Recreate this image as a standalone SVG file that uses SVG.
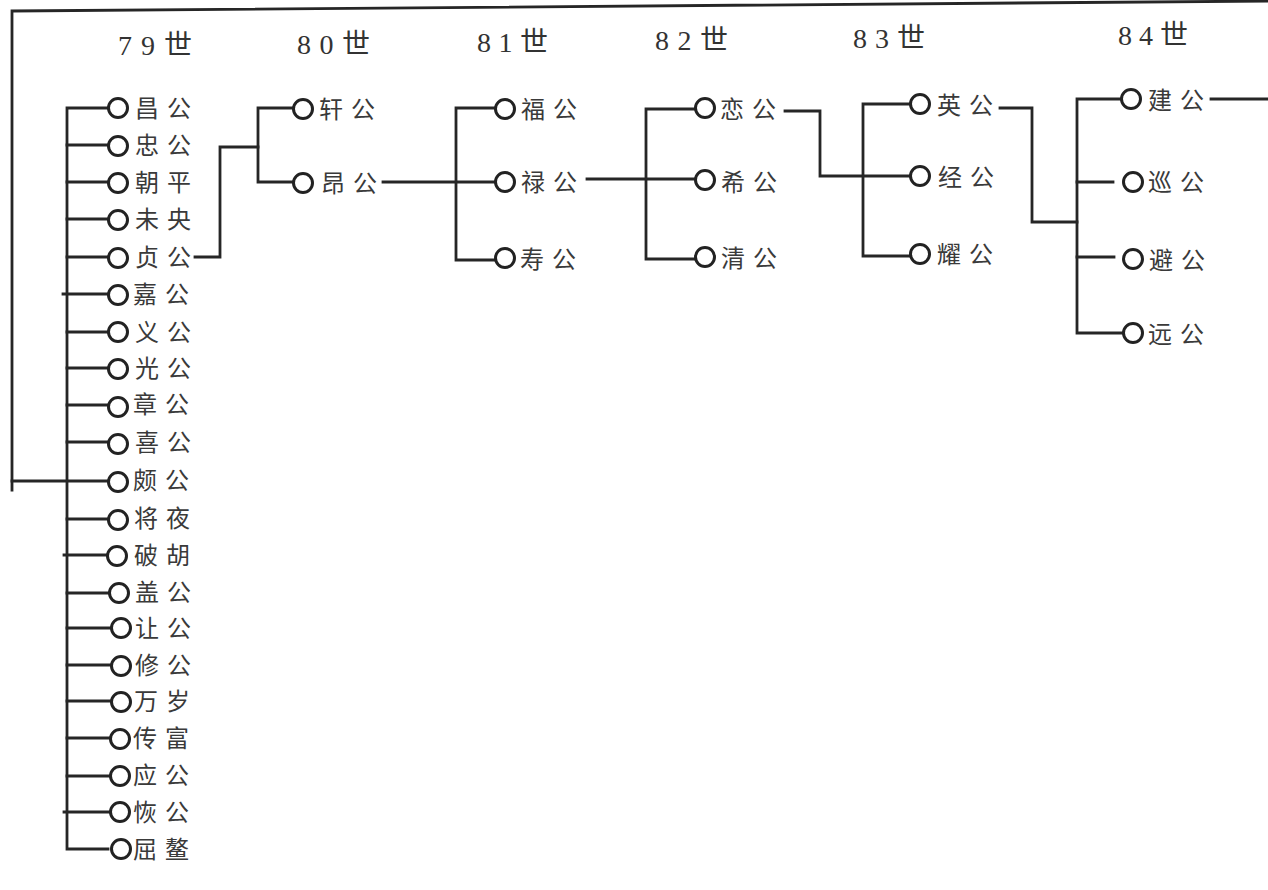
<svg xmlns="http://www.w3.org/2000/svg" width="1268" height="890" viewBox="0 0 1268 890">
<style>
.bg{fill:#ffffff}
.ln{fill:none;stroke:#262626;stroke-width:2.8;stroke-linecap:square;stroke-linejoin:miter}
.c{fill:none;stroke:#222222;stroke-width:3}
.t{font-family:"Noto Sans CJK SC","Noto Sans CJK TC",sans-serif;font-size:24px;fill:#3a3a3a;letter-spacing:8px}
.h{font-family:"Liberation Serif","Noto Sans CJK SC",serif;font-size:28px;fill:#333333}
</style>
<rect class="bg" x="0" y="0" width="1268" height="890"/>
<g id="headers">
<text class="h" x="118" y="55" textLength="74" lengthAdjust="spacing">79世</text>
<text class="h" x="297" y="54" textLength="73" lengthAdjust="spacing">80世</text>
<text class="h" x="477" y="52" textLength="71" lengthAdjust="spacing">81世</text>
<text class="h" x="655" y="50" textLength="73" lengthAdjust="spacing">82世</text>
<text class="h" x="853" y="48" textLength="72" lengthAdjust="spacing">83世</text>
<text class="h" x="1118" y="45" textLength="70" lengthAdjust="spacing">84世</text>
</g>
<g id="connectors">
<path class="ln" d="M12,490 L12,11 L1268,1"/>
<path class="ln" d="M12,481 H108"/>
<path class="ln" d="M108,108 H67 V849 H108"/>
<path class="ln" d="M67,145 H108 M67,182 H108 M67,219 H108 M67,257 H108 M63,294 H108 M67,332 H108 M67,368 H108 M67,405 H108 M67,442 H108 M67,519 H108 M64,555 H107 M67,593 H109 M67,628 H111 M67,665 H111 M67,701 H111 M67,738 H110 M67,776 H110 M64,812 H110"/>
<path class="ln" d="M195,257 H220 V147 H258"/>
<path class="ln" d="M293,108 H258 V182 H293"/>
<path class="ln" d="M383,182 H495"/>
<path class="ln" d="M495,108 H456 V260 H495"/>
<path class="ln" d="M587,179 H695"/>
<path class="ln" d="M695,109 H646 V259 H695"/>
<path class="ln" d="M785,111 H820 V176 H910"/>
<path class="ln" d="M910,104 H863 V256 H910"/>
<path class="ln" d="M1000,108 H1032 V222 H1077"/>
<path class="ln" d="M1121,99 H1077 V333 H1123"/>
<path class="ln" d="M1077,182 H1113 M1077,257 H1114"/>
<path class="ln" d="M1211,99 H1268"/>
</g>
<g id="n79-01"><circle class="c" cx="118" cy="108" r="9.5"/><text class="t" x="135" y="117">昌公</text></g>
<g id="n79-02"><circle class="c" cx="118" cy="146" r="9.5"/><text class="t" x="135" y="154">忠公</text></g>
<g id="n79-03"><circle class="c" cx="118" cy="183" r="9.5"/><text class="t" x="135" y="191">朝平</text></g>
<g id="n79-04"><circle class="c" cx="118" cy="220" r="9.5"/><text class="t" x="135" y="228">未央</text></g>
<g id="n79-05"><circle class="c" cx="118" cy="258" r="9.5"/><text class="t" x="135" y="266">贞公</text></g>
<g id="n79-06"><circle class="c" cx="118" cy="295" r="9.5"/><text class="t" x="133" y="303">嘉公</text></g>
<g id="n79-07"><circle class="c" cx="118" cy="332" r="9.5"/><text class="t" x="135" y="341">义公</text></g>
<g id="n79-08"><circle class="c" cx="118" cy="369" r="9.5"/><text class="t" x="135" y="377">光公</text></g>
<g id="n79-09"><circle class="c" cx="118" cy="407" r="9.5"/><text class="t" x="133" y="413">章公</text></g>
<g id="n79-10"><circle class="c" cx="118" cy="444" r="9.5"/><text class="t" x="135" y="451">喜公</text></g>
<g id="n79-11"><circle class="c" cx="118" cy="482" r="9.5"/><text class="t" x="133" y="489">颇公</text></g>
<g id="n79-12"><circle class="c" cx="118" cy="520" r="9.5"/><text class="t" x="134" y="527">将夜</text></g>
<g id="n79-13"><circle class="c" cx="117" cy="556" r="9.5"/><text class="t" x="134" y="564">破胡</text></g>
<g id="n79-14"><circle class="c" cx="119" cy="593" r="9.5"/><text class="t" x="135" y="601">盖公</text></g>
<g id="n79-15"><circle class="c" cx="121" cy="628" r="9.5"/><text class="t" x="135" y="637">让公</text></g>
<g id="n79-16"><circle class="c" cx="121" cy="666" r="9.5"/><text class="t" x="135" y="674">修公</text></g>
<g id="n79-17"><circle class="c" cx="121" cy="702" r="9.5"/><text class="t" x="134" y="710">万岁</text></g>
<g id="n79-18"><circle class="c" cx="120" cy="739" r="9.5"/><text class="t" x="133" y="747">传富</text></g>
<g id="n79-19"><circle class="c" cx="120" cy="776" r="9.5"/><text class="t" x="133" y="784">应公</text></g>
<g id="n79-20"><circle class="c" cx="120" cy="812" r="9.5"/><text class="t" x="133" y="821">恢公</text></g>
<g id="n79-21"><circle class="c" cx="121" cy="849" r="9.5"/><text class="t" x="133" y="858">屈鳌</text></g>
<g id="n80-1"><circle class="c" cx="303" cy="109" r="9.5"/><text class="t" x="319" y="118">轩公</text></g>
<g id="n80-2"><circle class="c" cx="303" cy="183" r="9.5"/><text class="t" x="321" y="192">昂公</text></g>
<g id="n81-1"><circle class="c" cx="505" cy="109" r="9.5"/><text class="t" x="521" y="118">福公</text></g>
<g id="n81-2"><circle class="c" cx="505" cy="182" r="9.5"/><text class="t" x="521" y="191">禄公</text></g>
<g id="n81-3"><circle class="c" cx="505" cy="258" r="9.5"/><text class="t" x="520" y="268">寿公</text></g>
<g id="n82-1"><circle class="c" cx="705" cy="108" r="9.5"/><text class="t" x="720" y="118">恋公</text></g>
<g id="n82-2"><circle class="c" cx="705" cy="180" r="9.5"/><text class="t" x="721" y="191">希公</text></g>
<g id="n82-3"><circle class="c" cx="705" cy="257" r="9.5"/><text class="t" x="721" y="267">清公</text></g>
<g id="n83-1"><circle class="c" cx="920" cy="104" r="9.5"/><text class="t" x="937" y="114">英公</text></g>
<g id="n83-2"><circle class="c" cx="920" cy="176" r="9.5"/><text class="t" x="938" y="186">经公</text></g>
<g id="n83-3"><circle class="c" cx="920" cy="254" r="9.5"/><text class="t" x="937" y="263">耀公</text></g>
<g id="n84-1"><circle class="c" cx="1131" cy="99" r="9.5"/><text class="t" x="1148" y="109">建公</text></g>
<g id="n84-2"><circle class="c" cx="1133" cy="182" r="9.5"/><text class="t" x="1148" y="191">巡公</text></g>
<g id="n84-3"><circle class="c" cx="1133" cy="259" r="9.5"/><text class="t" x="1149" y="269">避公</text></g>
<g id="n84-4"><circle class="c" cx="1133" cy="333" r="9.5"/><text class="t" x="1148" y="343">远公</text></g>
</svg>
